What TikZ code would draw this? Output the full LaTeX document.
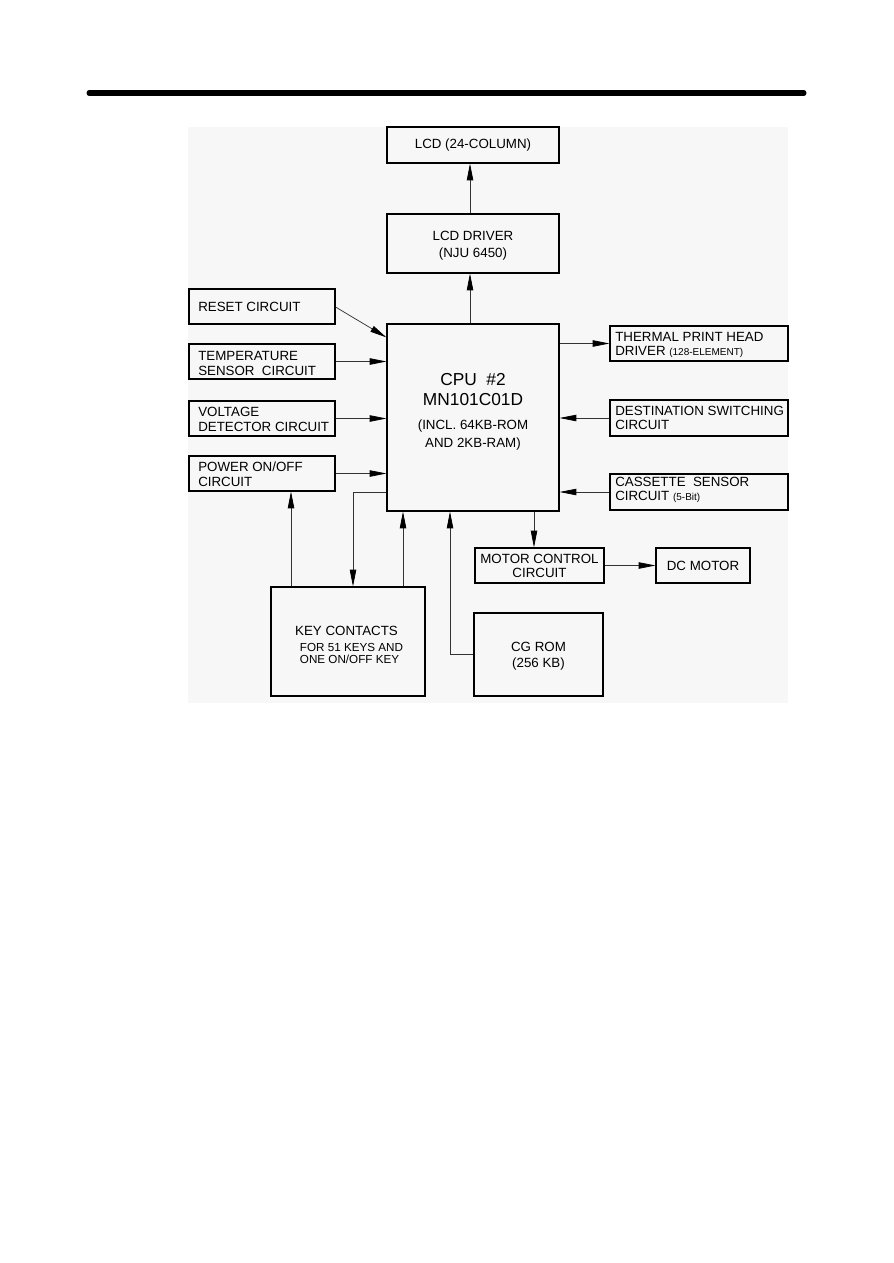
\documentclass[tikz,border=0pt]{standalone}
\usepackage{fontspec}
\setmainfont{Liberation Sans}
\usetikzlibrary{arrows.meta}
\newcommand\smtxt[1]{{\fontsize{7.5pt}{9pt}\selectfont #1}}
\tikzset{
  blk/.style={draw=black, line width=0.9pt, inner sep=0pt},
  txt/.style={inner sep=0pt, align=left, anchor=west, font=\fontsize{10pt}{11.25pt}\selectfont},
  ctxt/.style={inner sep=0pt, align=center, font=\fontsize{10pt}{#1}\selectfont},
  arr/.style={draw=black!80, line width=0.55pt, -{Triangle[length=12.5pt,width=4.8pt,color=black]}}
}
\begin{document}
\begin{tikzpicture}[x=0.75pt,y=-0.75pt]
\useasboundingbox (0,0) rectangle (893,1263);
\fill[black!3] (188,127) rectangle (788,703);
\draw[line width=3.75pt, line cap=round] (89,93) -- (804,93);

% top column
\node[blk, minimum width=129pt, minimum height=27pt] (lcd) at (473,145) {};
\node[ctxt=12pt] (lcdt) at (473,145) {LCD (24-COLUMN)};
\node[blk, minimum width=129pt, minimum height=44.25pt] (drv) at (473,243.5) {};
\node[ctxt=12.75pt] (drvt) at (473,246) {LCD DRIVER\\(NJU 6450)};
\node[blk, minimum width=129pt, minimum height=140.25pt] (cpu) at (473,417.5) {};
\node[inner sep=0pt, anchor=base, font=\fontsize{13pt}{15pt}\selectfont] (cpu1) at (473,385) {CPU\ \ \#2};
\node[inner sep=0pt, anchor=base, font=\fontsize{13pt}{15pt}\selectfont] (cpu2) at (473,405) {MN101C01D};
\node[inner sep=0pt, anchor=base, font=\fontsize{10pt}{12pt}\selectfont] (cpu3) at (473,429) {(INCL. 64KB-ROM};
\node[inner sep=0pt, anchor=base, font=\fontsize{10pt}{12pt}\selectfont] (cpu4) at (473,447) {AND 2KB-RAM)};

% left column
\node[blk, minimum width=109.5pt, minimum height=26.25pt] (reset) at (262,306.5) {};
\node[txt] (resett) at (198,306.7) {RESET CIRCUIT};
\node[blk, minimum width=109.5pt, minimum height=26.25pt] (temp) at (262,361.5) {};
\node[txt] (tempt) at (198,363.5) {TEMPERATURE\\SENSOR\ \ CIRCUIT};
\node[blk, minimum width=109.5pt, minimum height=26.25pt] (volt) at (262,418.5) {};
\node[txt] (voltt) at (198,419.5) {VOLTAGE\\DETECTOR CIRCUIT};
\node[blk, minimum width=109.5pt, minimum height=26.25pt] (pwr) at (262,473.5) {};
\node[txt] (pwrt) at (198,474.5) {POWER ON/OFF\\CIRCUIT};

% right column
\node[blk, minimum width=133.5pt, minimum height=26.25pt] (therm) at (699,343.5) {};
\node[txt, font=\fontsize{10pt}{11pt}\selectfont] (thermt) at (615,345) {THERMAL PRINT HEAD\\DRIVER \smtxt{(128-ELEMENT)}};
\node[blk, minimum width=133.5pt, minimum height=27pt] (dest) at (699,418) {};
\node[txt, font=\fontsize{10pt}{11pt}\selectfont] (destt) at (615,418) {DESTINATION SWITCHING\\CIRCUIT};
\node[blk, minimum width=133.5pt, minimum height=27pt] (cass) at (699,492) {};
\node[txt, font=\fontsize{10pt}{11pt}\selectfont] (casst) at (615,490) {CASSETTE\ \ SENSOR\\CIRCUIT \smtxt{(5-Bit)}};

% bottom
\node[blk, minimum width=96.75pt, minimum height=26.25pt] (motor) at (539.5,565.5) {};
\node[ctxt=10.5pt] (motort) at (539.5,566) {MOTOR CONTROL\\CIRCUIT};
\node[blk, minimum width=70.5pt, minimum height=26.25pt] (dc) at (703,565.5) {};
\node[ctxt=12pt] (dct) at (703,565.5) {DC MOTOR};
\node[blk, minimum width=115.5pt, minimum height=81.75pt] (key) at (348,641.5) {};
\node[ctxt=12pt] (keyt) at (346.5,630.7) {KEY CONTACTS};
\node[inner sep=0pt, align=left, font=\fontsize{8.75pt}{8.75pt}\selectfont] (keys) at (351.5,653.5) {FOR 51 KEYS AND\\ONE ON/OFF KEY};
\node[blk, minimum width=96.75pt, minimum height=62.25pt] (cg) at (538.5,654.5) {};
\node[ctxt=12pt] (cgt) at (538.5,656) {CG ROM\\(256 KB)};

% connectors
\draw[arr] ([xshift=-2.25pt]drv.north) -- ([xshift=-2.25pt]lcd.south);
\draw[arr] ([xshift=-2.25pt]cpu.north) -- ([xshift=-2.25pt]drv.south);
\draw[arr] ([yshift=-0.4pt]reset.east) -- ([yshift=-10.5pt]cpu.north west);
\draw[arr] (temp.east) -- (cpu.west |- temp.east);
\draw[arr] (volt.east) -- (cpu.west |- volt.east);
\draw[arr] (pwr.east) -- (cpu.west |- pwr.east);
\draw[arr] (cpu.east |- therm.west) -- (therm.west);
\draw[arr] (dest.west) -- (cpu.east |- dest.west);
\draw[arr] (cass.west) -- (cpu.east |- cass.west);

\coordinate (k1) at ([xshift=21.75pt]pwr.south);
\draw[arr] (key.north -| k1) -- (k1);
\draw[arr] ([yshift=14.25pt]cpu.south west) -| ([xshift=3.75pt]key.north);
\coordinate (k3) at ([xshift=41.25pt]key.north);
\draw[arr] (k3) -- (k3 |- cpu.south);
\coordinate (g1) at ([xshift=-17.25pt]cpu.south);
\draw[arr] (cg.west) -| (g1);
\coordinate (m1) at ([xshift=45.75pt]cpu.south);
\draw[arr] (m1) -- (m1 |- motor.north);
\draw[arr] (motor.east) -- (dc.west);
\end{tikzpicture}
\end{document}
